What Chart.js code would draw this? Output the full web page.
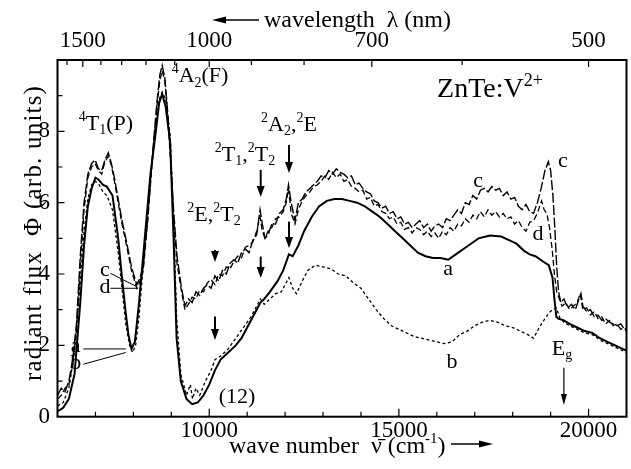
<!DOCTYPE html>
<html lang="en">
<head>
<meta charset="UTF-8">
<title>ZnTe:V2+ radiant flux</title>
<script src="https://cdn.jsdelivr.net/npm/chart.js"></script>
<style>
  html, body { margin: 0; padding: 0; background: #fff; }
  #wrap { width: 631px; height: 469px; }
</style>
</head>
<body>
<div id="wrap"><canvas id="fluxChart" width="631" height="469"></canvas></div>
<script>
// curve a (solid)
const waveA = [6000, 6150, 6300, 6450, 6600, 6700, 6800, 6900, 7000, 7080, 7200, 7300, 7450, 7600, 7700, 7800, 7870, 7950, 8040, 8150, 8300, 8450, 8570, 8680, 8760, 8850, 8970, 9060, 9140, 9250, 9400, 9550, 9700, 9850, 10000, 10150, 10300, 10500, 10700, 10850, 11000, 11200, 11350, 11450, 11600, 11800, 11950, 12100, 12200, 12350, 12500, 12700, 12900, 13100, 13300, 13500, 13700, 13900, 14100, 14300, 14500, 14700, 14900, 15100, 15300, 15500, 15700, 15900, 16100, 16300, 16500, 16700, 16900, 17100, 17400, 17700, 17900, 18100, 18300, 18450, 18600, 18800, 18950, 19050, 19100, 19150, 19200, 19350, 19500, 19700, 19900, 20100, 20300, 20500, 20700, 20900, 21000];
const fluxA = [0.15, 0.25, 0.5, 1.2, 3.2, 4.8, 5.9, 6.4, 6.7, 6.65, 6.5, 6.45, 6.2, 5.0, 3.9, 2.9, 2.3, 1.9, 2.1, 3.2, 5.0, 6.8, 7.8, 8.8, 9.05, 8.7, 7.7, 5.0, 2.2, 1.0, 0.5, 0.35, 0.4, 0.6, 0.9, 1.3, 1.6, 1.8, 2.0, 2.2, 2.5, 2.9, 3.2, 3.3, 3.5, 3.8, 4.1, 4.55, 4.5, 4.8, 5.2, 5.6, 5.9, 6.05, 6.1, 6.1, 6.05, 6.0, 5.9, 5.75, 5.6, 5.4, 5.2, 5.0, 4.8, 4.6, 4.5, 4.45, 4.45, 4.4, 4.55, 4.7, 4.85, 5.0, 5.08, 5.05, 4.95, 4.85, 4.65, 4.55, 4.5, 4.35, 4.25, 3.9, 3.3, 2.8, 2.75, 2.7, 2.6, 2.5, 2.4, 2.35, 2.2, 2.1, 2.0, 1.9, 1.85];

// curve b (dotted)
const waveB = [6000, 6150, 6300, 6450, 6600, 6700, 6800, 6900, 7000, 7100, 7200, 7300, 7450, 7600, 7700, 7800, 7900, 7980, 8060, 8150, 8300, 8450, 8570, 8680, 8760, 8850, 8970, 9060, 9140, 9250, 9400, 9500, 9560, 9650, 9750, 9900, 10050, 10150, 10300, 10500, 10700, 10900, 11100, 11250, 11350, 11450, 11600, 11750, 11900, 12000, 12100, 12200, 12300, 12450, 12600, 12800, 13000, 13200, 13400, 13600, 13800, 14000, 14200, 14400, 14600, 14800, 15000, 15200, 15400, 15600, 15800, 16000, 16200, 16400, 16600, 16800, 17000, 17200, 17400, 17600, 17800, 18000, 18200, 18400, 18550, 18700, 18850, 18950, 19050, 19150, 19250, 19350, 19500, 19700, 19900, 20100, 20300, 20500, 20700, 20900, 21000];
const fluxB = [0.3, 0.4, 0.8, 1.8, 3.8, 5.2, 6.1, 6.5, 6.6, 6.5, 6.3, 6.2, 5.8, 4.6, 3.6, 2.6, 2.0, 1.8, 2.0, 2.8, 4.8, 6.6, 7.9, 8.9, 9.1, 8.9, 7.9, 5.5, 2.8, 1.2, 0.6, 0.9, 0.5, 0.8, 0.6, 1.0, 1.3, 1.6, 1.7, 1.9, 2.2, 2.5, 2.8, 3.1, 3.3, 3.15, 3.3, 3.45, 3.5, 3.7, 3.9, 3.6, 3.45, 3.8, 4.1, 4.25, 4.2, 4.15, 4.0, 3.95, 3.75, 3.6, 3.3, 3.0, 2.75, 2.55, 2.45, 2.35, 2.25, 2.2, 2.15, 2.1, 2.05, 2.1, 2.3, 2.4, 2.55, 2.65, 2.7, 2.65, 2.55, 2.5, 2.4, 2.3, 2.2, 2.5, 2.75, 2.9, 3.0, 3.05, 2.75, 2.65, 2.55, 2.45, 2.35, 2.3, 2.15, 2.05, 1.95, 1.85, 1.8];

// curve c (long dashes)
const waveC = [6000, 6100, 6200, 6300, 6400, 6500, 6600, 6700, 6800, 6900, 6990, 7080, 7165, 7250, 7340, 7420, 7500, 7600, 7700, 7820, 7950, 8090, 8180, 8260, 8380, 8500, 8620, 8700, 8760, 8830, 8900, 8980, 9060, 9150, 9270, 9360, 9450, 9550, 9650, 9750, 9850, 9950, 10050, 10150, 10250, 10350, 10450, 10550, 10650, 10750, 10850, 10950, 11050, 11150, 11250, 11340, 11400, 11470, 11550, 11650, 11750, 11850, 11950, 12030, 12090, 12160, 12260, 12350, 12450, 12550, 12650, 12750, 12850, 12950, 13050, 13150, 13250, 13350, 13450, 13550, 13650, 13750, 13850, 13950, 14050, 14150, 14250, 14350, 14450, 14550, 14650, 14750, 14850, 14950, 15050, 15150, 15250, 15350, 15450, 15550, 15650, 15750, 15850, 15950, 16050, 16150, 16250, 16350, 16450, 16550, 16650, 16750, 16850, 16950, 17050, 17150, 17250, 17350, 17450, 17550, 17650, 17750, 17850, 17950, 18050, 18150, 18250, 18350, 18450, 18550, 18650, 18750, 18850, 18940, 19000, 19060, 19110, 19160, 19210, 19270, 19350, 19450, 19550, 19650, 19750, 19800, 19850, 19950, 20050, 20150, 20250, 20350, 20450, 20550, 20650, 20750, 20850, 20950, 21000];
const fluxC = [0.6, 0.8, 0.7, 1.0, 1.6, 2.6, 4.5, 6.0, 6.8, 7.1, 7.2, 6.95, 6.9, 7.2, 7.4, 7.1, 6.7, 6.1, 5.5, 4.9, 4.2, 3.7, 3.9, 4.2, 5.6, 7.3, 8.8, 9.6, 9.85, 9.5, 8.6, 7.3, 5.8, 4.5, 3.6, 3.1, 3.3, 3.2, 3.5, 3.4, 3.6, 3.7, 3.6, 3.95, 3.8, 4.1, 4.0, 4.3, 4.4, 4.3, 4.6, 4.7, 4.6, 4.95, 5.1, 5.8, 5.4, 5.0, 5.1, 5.4, 5.4, 5.7, 5.8, 6.1, 6.5, 6.0, 5.5, 6.0, 6.1, 6.3, 6.4, 6.5, 6.6, 6.75, 6.7, 6.9, 6.8, 6.95, 6.85, 6.8, 6.7, 6.75, 6.5, 6.55, 6.4, 6.3, 6.25, 6.05, 6.0, 5.85, 5.9, 5.7, 5.75, 5.55, 5.6, 5.4, 5.45, 5.3, 5.4, 5.5, 5.3, 5.4, 5.2, 5.35, 5.4, 5.3, 5.55, 5.5, 5.65, 5.8, 5.7, 6.0, 5.95, 6.2, 6.1, 6.35, 6.4, 6.3, 6.45, 6.35, 6.4, 6.2, 6.3, 6.1, 6.15, 5.9, 5.8, 5.95, 5.75, 5.7, 6.0, 6.4, 6.9, 7.15, 6.9, 6.2, 5.3, 4.2, 3.5, 3.2, 3.3, 3.05, 3.15, 3.0, 3.3, 3.45, 3.1, 2.95, 3.0, 2.8, 2.85, 2.7, 2.75, 2.65, 2.6, 2.55, 2.6, 2.45, 2.4];

// curve d (short dashes)
const waveD = [6000, 6100, 6200, 6300, 6400, 6500, 6600, 6700, 6800, 6900, 6990, 7080, 7165, 7250, 7340, 7420, 7500, 7600, 7700, 7820, 7950, 8090, 8180, 8260, 8380, 8500, 8620, 8700, 8760, 8830, 8900, 8980, 9060, 9150, 9270, 9360, 9450, 9550, 9650, 9750, 9850, 9950, 10050, 10150, 10250, 10350, 10450, 10550, 10650, 10750, 10850, 10950, 11050, 11150, 11250, 11340, 11400, 11470, 11550, 11650, 11750, 11850, 11950, 12030, 12090, 12160, 12260, 12350, 12450, 12550, 12650, 12750, 12850, 12950, 13050, 13150, 13250, 13350, 13450, 13550, 13650, 13750, 13850, 13950, 14050, 14150, 14250, 14350, 14450, 14550, 14650, 14750, 14850, 14950, 15050, 15150, 15250, 15350, 15450, 15550, 15650, 15750, 15850, 15950, 16050, 16150, 16250, 16350, 16450, 16550, 16650, 16750, 16850, 16950, 17050, 17150, 17250, 17350, 17450, 17550, 17650, 17750, 17850, 17950, 18050, 18150, 18250, 18350, 18450, 18550, 18650, 18760, 18830, 18900, 18970, 19040, 19100, 19160, 19230, 19300, 19400, 19500, 19600, 19700, 19780, 19850, 19950, 20050, 20150, 20250, 20350, 20450, 20550, 20650, 20750, 20850, 20950, 21000];
const fluxD = [0.5, 0.6, 0.8, 0.9, 1.5, 2.4, 4.2, 5.8, 6.7, 7.0, 7.1, 6.9, 6.8, 7.15, 7.3, 7.05, 6.6, 6.0, 5.4, 4.8, 4.1, 3.6, 3.8, 4.1, 5.5, 7.2, 8.7, 9.45, 9.7, 9.4, 8.5, 7.2, 5.6, 4.3, 3.5, 3.0, 3.15, 3.35, 3.3, 3.55, 3.5, 3.75, 3.85, 3.7, 4.0, 3.95, 4.2, 4.15, 4.35, 4.5, 4.45, 4.75, 4.8, 4.9, 5.2, 5.6, 5.2, 5.0, 5.2, 5.3, 5.55, 5.6, 5.75, 6.0, 6.4, 5.7, 5.4, 5.8, 6.05, 6.2, 6.3, 6.45, 6.5, 6.6, 6.75, 6.65, 6.85, 6.7, 6.8, 6.6, 6.65, 6.45, 6.4, 6.3, 6.35, 6.1, 6.15, 5.9, 5.95, 5.75, 5.7, 5.55, 5.6, 5.4, 5.45, 5.25, 5.3, 5.15, 5.3, 5.25, 5.1, 5.2, 5.05, 5.15, 5.0, 5.2, 5.1, 5.3, 5.2, 5.4, 5.35, 5.55, 5.45, 5.65, 5.55, 5.75, 5.6, 5.8, 5.65, 5.75, 5.6, 5.7, 5.55, 5.6, 5.4, 5.5, 5.3, 5.2, 5.45, 5.5, 5.7, 6.05, 5.8, 5.7, 5.3, 4.7, 4.0, 3.5, 3.3, 3.1, 3.2, 3.0, 3.1, 3.2, 3.45, 3.0, 3.05, 2.85, 2.95, 2.75, 2.8, 2.6, 2.7, 2.55, 2.6, 2.45, 2.5, 2.4];

// axis ticks
const waveLabels = [10000, 15000, 20000];
const waveMinor = [7000, 8000, 9000, 10000, 11000, 12000, 13000, 14000, 15000, 16000, 17000, 18000, 19000, 20000];
const fluxLabels = [0, 2, 4, 6, 8];
const fluxMinor = [1, 2, 3, 4, 5, 6, 7, 8, 9];
const lambdaLabels = [1500, 1000, 700, 500];
const lambdaMinor = [1600, 1500, 1400, 1300, 1200, 1100, 1000, 900, 800, 700, 600, 500];

// annotations: [text, wave number, flux at baseline]
const stateLabels = [
  ['^4T_1(P)', 7277, 8.04],
  ['^4A_2(F)', 9757, 9.38],
  ['^2E,^2T_2', 10126, 5.49],
  ['^2T_1,^2T_2', 10943, 7.17],
  ['^2A_2,^2E', 12103, 8.01],
  ['(12)', 10732, 0.38],
  ['E_g', 19300, 1.73]
];
const curveLabels = [
  ['a', 16295, 3.97], ['b', 16400, 1.37], ['c', 17086, 6.44], ['c', 19326, 7.0],
  ['d', 18667, 4.95], ['c', 7252, 3.94], ['d', 7252, 3.47], ['a', 6480, 1.8], ['b', 6480, 1.35]
];
// leader lines [x1, y1, x2, y2]
const leaders = [
  [7397, 4.02, 8101, 3.64], [7397, 3.60, 8127, 3.60],
  [6680, 1.9, 7800, 1.9], [6680, 1.47, 7800, 1.8]
];
// arrows [wave number, flux top, flux tip]
const arrows = [
  [10152, 4.67, 4.34], [10152, 2.81, 2.15],
  [11357, 6.92, 6.16], [11357, 4.49, 3.89],
  [12103, 7.62, 6.83], [12103, 5.47, 4.73]
];
const gapArrow = [19349, 1.37, 0.33];

const serif = '"Liberation Serif", "Times New Roman", serif';

function parseRich(str) {
  const parts = [];
  let i = 0;
  while (i < str.length) {
    const ch = str[i];
    if (ch === '^' || ch === '_') {
      let t;
      if (str[i + 1] === '{') {
        const j = str.indexOf('}', i);
        t = str.slice(i + 2, j);
        i = j + 1;
      } else {
        t = str[i + 1];
        i += 2;
      }
      parts.push({ t: t, k: ch === '^' ? 'sup' : 'sub' });
    } else {
      let j = i;
      while (j < str.length && str[j] !== '^' && str[j] !== '_') j++;
      parts.push({ t: str.slice(i, j), k: '' });
      i = j;
    }
  }
  return parts;
}

function drawRich(ctx, str, x, y, size, align) {
  const parts = parseRich(str);
  const small = Math.round(size * 0.64);
  let w = 0;
  parts.forEach(p => {
    ctx.font = (p.k ? small : size) + 'px ' + serif;
    p.w = ctx.measureText(p.t).width;
    w += p.w;
  });
  let cx = align === 'center' ? x - w / 2 : (align === 'right' ? x - w : x);
  ctx.textAlign = 'left';
  ctx.textBaseline = 'alphabetic';
  parts.forEach(p => {
    ctx.font = (p.k ? small : size) + 'px ' + serif;
    const dy = p.k === 'sup' ? -size * 0.4 : (p.k === 'sub' ? size * 0.2 : 0);
    ctx.fillText(p.t, cx, y + dy);
    cx += p.w;
  });
  return w;
}

function headDown(ctx, x, y, half, len) {
  ctx.beginPath();
  ctx.moveTo(x, y);
  ctx.lineTo(x - half, y - len);
  ctx.lineTo(x + half, y - len);
  ctx.closePath();
  ctx.fill();
}

function hArrow(ctx, x1, x2, y) {
  // arrow from x1 to x2, head at x2
  const dir = x2 > x1 ? 1 : -1;
  ctx.lineWidth = 1.5;
  ctx.beginPath();
  ctx.moveTo(x1, y);
  ctx.lineTo(x2 - dir * 10, y);
  ctx.stroke();
  ctx.beginPath();
  ctx.moveTo(x2, y);
  ctx.lineTo(x2 - dir * 14, y - 3.5);
  ctx.lineTo(x2 - dir * 14, y + 3.5);
  ctx.closePath();
  ctx.fill();
}

const decorations = {
  id: 'decorations',
  afterDatasetsDraw(chart) {
    const { ctx, chartArea: a, scales: { x, y } } = chart;
    ctx.save();
    ctx.strokeStyle = '#000';
    ctx.fillStyle = '#000';

    // inward ticks
    ctx.lineWidth = 1.2;
    ctx.beginPath();
    waveMinor.forEach(v => {
      const px = x.getPixelForValue(v);
      const len = waveLabels.includes(v) ? 8 : 5;
      ctx.moveTo(px, a.bottom);
      ctx.lineTo(px, a.bottom - len);
    });
    fluxMinor.forEach(v => {
      const py = y.getPixelForValue(v);
      const len = fluxLabels.includes(v) ? 7 : 5;
      ctx.moveTo(a.left, py);
      ctx.lineTo(a.left + len, py);
    });
    lambdaMinor.forEach(l => {
      const px = x.getPixelForValue(1e7 / l);
      const len = lambdaLabels.includes(l) ? 7 : 5;
      ctx.moveTo(px, a.top);
      ctx.lineTo(px, a.top + len);
    });
    ctx.stroke();

    // frame
    ctx.lineWidth = 2;
    ctx.strokeRect(a.left, a.top, a.right - a.left, a.bottom - a.top);

    // axis titles
    drawRich(ctx, 'wave number  \u03BD\u0304 (cm^{-1})', 229, 453, 24, 'left');
    hArrow(ctx, 451, 493, 444);
    hArrow(ctx, 259, 212, 20);
    drawRich(ctx, 'wavelength  \u03BB (nm)', 264, 27, 24, 'left');
    ctx.save();
    ctx.translate(41, 233);
    ctx.rotate(-Math.PI / 2);
    ctx.letterSpacing = '1.2px';
    drawRich(ctx, 'radiant flux  \u03A6 (arb. units)', 0, 0, 25, 'center');
    ctx.restore();

    // title
    drawRich(ctx, 'ZnTe:V^{2+}', x.getPixelForValue(17400), y.getPixelForValue(8.95), 28, 'center');

    // state labels and curve labels
    stateLabels.forEach(s => drawRich(ctx, s[0], x.getPixelForValue(s[1]), y.getPixelForValue(s[2]), 22, 'center'));
    curveLabels.forEach(s => drawRich(ctx, s[0], x.getPixelForValue(s[1]), y.getPixelForValue(s[2]), 22, 'center'));

    // leader lines
    ctx.lineWidth = 1;
    ctx.beginPath();
    leaders.forEach(l => {
      ctx.moveTo(x.getPixelForValue(l[0]), y.getPixelForValue(l[1]));
      ctx.lineTo(x.getPixelForValue(l[2]), y.getPixelForValue(l[3]));
    });
    ctx.stroke();

    // transition arrows
    arrows.forEach(r => {
      const px = x.getPixelForValue(r[0]);
      const top = y.getPixelForValue(r[1]);
      const tip = y.getPixelForValue(r[2]);
      ctx.lineWidth = 2;
      ctx.beginPath();
      ctx.moveTo(px, top);
      ctx.lineTo(px, tip - 6);
      ctx.stroke();
      headDown(ctx, px, tip, 4, 11);
    });
    const gx = x.getPixelForValue(gapArrow[0]);
    ctx.lineWidth = 1.2;
    ctx.beginPath();
    ctx.moveTo(gx, y.getPixelForValue(gapArrow[1]));
    ctx.lineTo(gx, y.getPixelForValue(gapArrow[2]) - 6);
    ctx.stroke();
    headDown(ctx, gx, y.getPixelForValue(gapArrow[2]), 3, 11);

    ctx.restore();
  }
};

function pairs(xs, ys) {
  return xs.map((v, i) => ({ x: v, y: ys[i] }));
}

const tickFont = { family: serif, size: 23 };
const noGrid = { display: false, drawTicks: false };

new Chart(document.getElementById('fluxChart'), {
  type: 'line',
  data: {
    datasets: [
      { label: 'b', data: pairs(waveB, fluxB), borderColor: '#000', borderWidth: 1.3, borderDash: [3, 2.5] },
      { label: 'd', data: pairs(waveD, fluxD), borderColor: '#000', borderWidth: 1.3, borderDash: [6, 3] },
      { label: 'c', data: pairs(waveC, fluxC), borderColor: '#000', borderWidth: 1.4, borderDash: [10, 2.5] },
      { label: 'a', data: pairs(waveA, fluxA), borderColor: '#000', borderWidth: 2 }
    ]
  },
  options: {
    responsive: false,
    animation: false,
    layout: { padding: { left: 0, right: 4.5, top: 0, bottom: 0 } },
    elements: { point: { radius: 0 }, line: { tension: 0, fill: false } },
    plugins: { legend: { display: false }, tooltip: { enabled: false } },
    scales: {
      x: {
        type: 'linear', position: 'bottom', min: 6000, max: 21000,
        afterBuildTicks: s => { s.ticks = waveLabels.map(v => ({ value: v })); },
        ticks: { font: tickFont, color: '#000', padding: 0, maxRotation: 0, autoSkip: false, callback: v => String(v) },
        grid: noGrid,
        border: { display: false },
        afterFit: s => { s.height = 469 - 416.7; }
      },
      xTop: {
        type: 'linear', position: 'top', min: 6000, max: 21000,
        afterBuildTicks: s => { s.ticks = lambdaLabels.map(l => ({ value: 1e7 / l })); },
        ticks: { font: tickFont, color: '#000', padding: 5.5, maxRotation: 0, autoSkip: false, callback: v => String(Math.round(1e7 / v)) },
        grid: noGrid,
        border: { display: false },
        afterFit: s => { s.height = 60; }
      },
      y: {
        min: 0, max: 10,
        afterBuildTicks: s => { s.ticks = fluxLabels.map(v => ({ value: v })); },
        ticks: { font: tickFont, color: '#000', padding: 7.5, autoSkip: false, callback: v => String(v) },
        grid: noGrid,
        border: { display: false },
        afterFit: s => { s.width = 57.5; }
      }
    }
  },
  plugins: [decorations]
});
</script>
</body>
</html>
